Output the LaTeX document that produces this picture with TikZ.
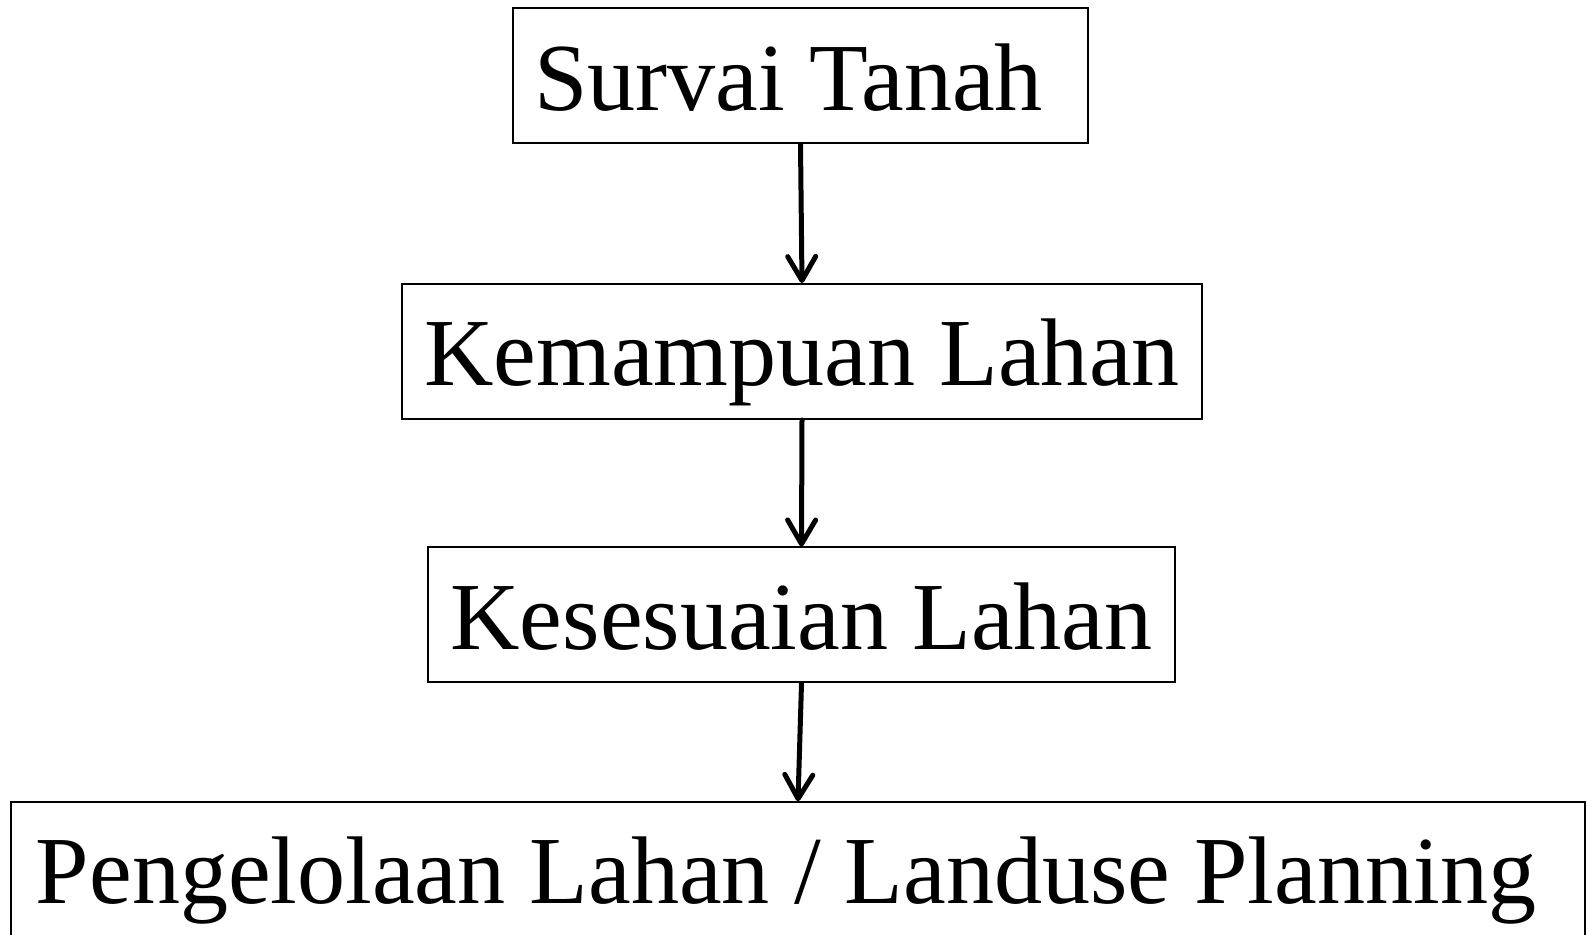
\documentclass[tikz,border=0pt]{standalone}
\usepackage{fontspec}
\setmainfont{Liberation Serif}
\usepackage{tikz}
\usetikzlibrary{arrows.meta, positioning}

\begin{document}
\begin{tikzpicture}[
          box/.style={rectangle, draw=black, line width=0.04cm,
                      minimum height=2.7cm, inner sep=0pt,
                      text height=1.38cm, text depth=0pt,
                      font=\fontsize{54.7}{66}\selectfont},
          flow/.style={-{Straight Barb[length=0.48cm, width=0.56cm, round]},
                       line width=0.1cm, line cap=round}
        ]
        \useasboundingbox (0,0) rectangle (31.74,18.7);
        % Survai
        \node[box, minimum width=11.5cm]  (survai) at (16.01,17.18)
              {Survai Tanah\rule{0.25em}{0pt}};
        % Kemampuan
        \node[box, minimum width=16.0cm]  (mampu)  at (16.04,11.67) {Kemampuan Lahan};
        % Kesesuaian
        \node[box, minimum width=14.94cm] (sesuai) at (16.03,6.40)  {Kesesuaian Lahan};
        % Pengelolaan
        \node[box, minimum width=31.48cm, line width=0.03cm]
              (kelola) at (15.96,1.31)
              {Pengelolaan Lahan / Landuse Planning\rule{0.25em}{0pt}};

        % Flow arrows
        \draw[flow] (survai.south) -- (mampu.north);
        \draw[flow] (mampu.south)  -- (sesuai.north);
        \draw[flow] (sesuai.south) -- (kelola.north);
      \end{tikzpicture}
\end{document}
